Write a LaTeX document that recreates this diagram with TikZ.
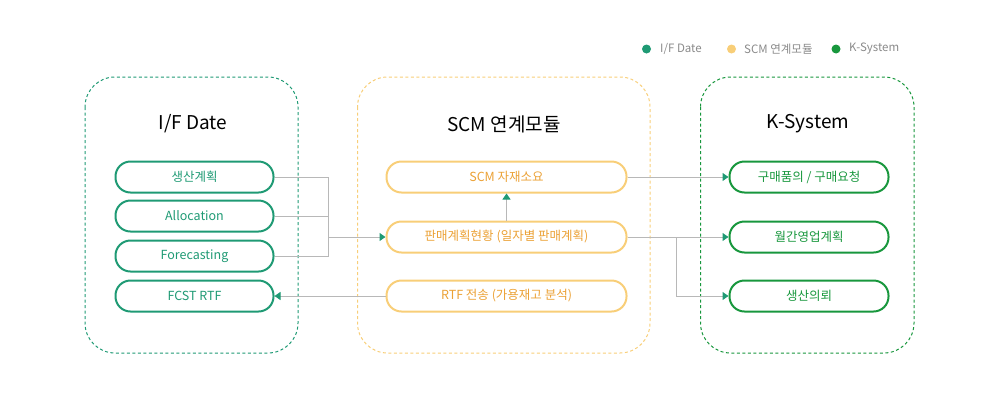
\documentclass[tikz,border=0pt]{standalone}
\usepackage{fontspec}
\setmainfont{Noto Sans CJK KR}
\usetikzlibrary{arrows.meta}
\definecolor{cteal}{HTML}{1F9A74}
\definecolor{corange}{HTML}{F8CE78}
\definecolor{corangetxt}{HTML}{EBA135}
\definecolor{cgreen}{HTML}{18973D}
\definecolor{cline}{HTML}{B8B8B8}
\definecolor{clegend}{HTML}{8A8A8A}
\begin{document}
\begin{tikzpicture}[x=1pt,y=-1pt,
  box/.style={rectangle,rounded corners=15pt,line width=2pt,minimum height=31pt,inner sep=0pt,font=\fontsize{12.5}{14}\selectfont},
  lbox/.style={box,draw=cteal,text=cteal,minimum width=158pt},
  mbox/.style={box,draw=corange,text=corangetxt,minimum width=240pt},
  rbox/.style={box,draw=cgreen,text=cgreen,minimum width=159pt},
  cont/.style={rectangle,rounded corners=30pt,dashed,dash pattern=on 3pt off 2.5pt,line width=1pt},
  title/.style={font=\fontsize{19}{22}\selectfont,text=black,inner sep=0pt},
  conn/.style={draw=cline,line width=1pt},
  arr/.style={conn,-{Triangle[color=cteal,length=6pt,width=8pt]}},
  legtxt/.style={font=\fontsize{11.5}{13}\selectfont,text=clegend,anchor=west,inner sep=0pt},
]
\useasboundingbox (0,0) rectangle (1000,400);
% containers
\draw[cont,draw=cteal] (85,77) rectangle (298,353);
\draw[cont,draw=corange] (357.5,77) rectangle (650,353);
\draw[cont,draw=cgreen] (700.5,77) rectangle (914,353);
% titles
\node[title] (t1) at (193,124) {I/F Date};
\node[title] (t2) at (504,124) {SCM 연계모듈};
\node[title] (t3) at (808,124) {K-System};
% left nodes
\node[lbox] (a1) at (194.5,177) {생산계획};
\node[lbox] (a2) at (194.5,216) {Allocation};
\node[lbox] (a3) at (194.5,256) {Forecasting};
\node[lbox] (a4) at (194.5,296) {FCST RTF};
% middle nodes
\node[mbox] (b1) at (506.5,177) {SCM 자재소요};
\node[mbox] (b2) at (506.5,237) {판매계획현황 (일자별 판매계획)};
\node[mbox] (b3) at (506.5,296) {RTF 전송 (가용재고 분석)};
% right nodes
\node[rbox] (c1) at (809,177) {구매품의 / 구매요청};
\node[rbox] (c2) at (809,237) {월간영업계획};
\node[rbox] (c3) at (809,296) {생산의뢰};
% connectors
\coordinate (j1) at (328,237);
\coordinate (j2) at (676,237);
\draw[conn] (a1.east) -| (j1);
\draw[conn] (a2.east) -| (j1);
\draw[conn] (a3.east) -| (j1);
\draw[arr] (j1) -- (b2.west);
\draw[arr] (b3.west) -- (a4.east);
\draw[arr] (b2.north) -- (b1.south);
\draw[arr] (b1.east) -- (c1.west);
\draw[arr] (b2.east) -- (c2.west);
\draw[arr] (j2) |- (c3.west);
% legend
\fill[cteal] (646.5,49) circle (4.5pt);
\node[legtxt] (l1) at (660,49) {I/F Date};
\fill[corange] (731.5,49) circle (4.5pt);
\node[legtxt] (l2) at (744,49) {SCM 연계모듈};
\fill[cgreen] (836,49) circle (4.5pt);
\node[legtxt] (l3) at (849,49) {K-System};
\end{tikzpicture}
\end{document}
